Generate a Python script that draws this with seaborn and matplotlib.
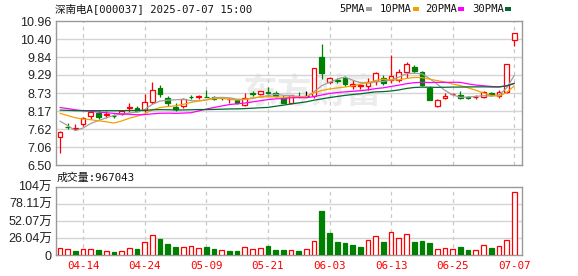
import numpy as np
import pandas as pd
import matplotlib
matplotlib.use("Agg")
import matplotlib.pyplot as plt
from matplotlib.patches import Rectangle
import seaborn as sns

# ---------------- data ----------------
dates = ["04-09", "04-10", "04-11", "04-14", "04-15", "04-16", "04-17", "04-18", "04-21", "04-22",
         "04-23", "04-24", "04-25", "04-28", "04-29", "04-30", "05-06", "05-07", "05-08", "05-09",
         "05-12", "05-13", "05-14", "05-15", "05-16", "05-19", "05-20", "05-21", "05-22", "05-23",
         "05-26", "05-27", "05-28", "05-29", "05-30", "06-03", "06-04", "06-05", "06-06", "06-09",
         "06-10", "06-11", "06-12", "06-13", "06-16", "06-17", "06-18", "06-19", "06-20", "06-23",
         "06-24", "06-25", "06-26", "06-27", "06-30", "07-01", "07-02", "07-03", "07-04", "07-07"]

open_ = [7.38, 7.68, 7.63, 7.78, 8.01, 8.10, 8.06, 8.02, 8.08, 8.27,
         8.28, 8.21, 8.45, 8.88, 8.58, 8.30, 8.33, 8.62, 8.60, 8.61,
         8.62, 8.58, 8.54, 8.50, 8.35, 8.73, 8.69, 8.75, 8.74, 8.59,
         8.41, 8.65, 8.64, 8.64, 9.83, 9.07, 9.12, 9.18, 8.95, 8.95,
         8.95, 9.10, 9.21, 9.12, 9.13, 9.38, 9.52, 9.39, 8.90, 8.34,
         8.56, 8.70, 8.67, 8.61, 8.60, 8.60, 8.73, 8.64, 8.76, 10.36]
high = [7.56, 7.81, 7.77, 7.99, 8.21, 8.19, 8.16, 8.09, 8.21, 8.42,
        8.32, 8.70, 9.07, 8.97, 8.65, 8.42, 8.58, 8.68, 8.68, 8.82,
        8.65, 8.59, 8.58, 8.55, 8.73, 8.78, 8.79, 8.91, 8.78, 8.67,
        8.68, 8.75, 8.80, 9.50, 10.24, 9.24, 9.18, 9.26, 9.14, 9.02,
        9.18, 9.39, 9.29, 9.92, 9.46, 9.68, 9.59, 9.41, 8.95, 8.55,
        8.72, 8.73, 8.80, 8.65, 8.67, 8.78, 8.76, 8.83, 9.63, 10.59]
low = [6.88, 7.62, 7.58, 7.71, 7.94, 7.92, 7.96, 7.95, 8.05, 8.14,
       8.14, 8.14, 8.38, 8.60, 8.32, 8.17, 8.28, 8.54, 8.54, 8.60,
       8.51, 8.50, 8.41, 8.40, 8.33, 8.65, 8.66, 8.69, 8.60, 8.42,
       8.40, 8.59, 8.60, 8.59, 9.16, 9.00, 9.05, 8.95, 8.85, 8.85,
       8.83, 8.99, 8.99, 9.05, 9.08, 9.21, 9.36, 8.95, 8.50, 8.29,
       8.54, 8.67, 8.55, 8.55, 8.55, 8.58, 8.63, 8.59, 8.73, 10.19]
close = [7.53, 7.67, 7.64, 7.96, 8.13, 7.99, 8.08, 8.01, 8.18, 8.29,
         8.16, 8.45, 8.82, 8.69, 8.42, 8.22, 8.53, 8.61, 8.64, 8.60,
         8.55, 8.57, 8.55, 8.42, 8.59, 8.71, 8.78, 8.73, 8.65, 8.42,
         8.66, 8.64, 8.64, 9.50, 9.35, 9.18, 9.10, 9.01, 9.00, 8.97,
         9.08, 9.34, 9.05, 9.26, 9.38, 9.62, 9.40, 8.97, 8.51, 8.52,
         8.65, 8.71, 8.58, 8.57, 8.62, 8.75, 8.66, 8.75, 9.63, 10.59]
# closes of the 29 sessions before the window (needed for the moving averages)
prior_closes = [7.90, 7.95, 8.00, 8.02, 8.05, 8.06, 8.08, 8.10, 8.12, 8.12,
                8.30, 8.42, 8.50, 8.52, 8.48, 8.46, 8.45, 8.50, 8.52, 8.45,
                8.35, 8.34, 8.33, 8.35, 8.33, 8.38, 8.40, 7.56, 7.43]
volume = [106000, 91000, 65000, 96000, 96000, 80000, 65000, 50000, 65000, 106000,
          96000, 202000, 304000, 247000, 172000, 126000, 126000, 136000, 106000, 126000,
          96000, 75000, 65000, 65000, 121000, 91000, 106000, 141000, 80000, 80000,
          75000, 65000, 91000, 212000, 673000, 344000, 202000, 187000, 156000, 126000,
          227000, 288000, 202000, 349000, 258000, 319000, 202000, 217000, 187000, 91000,
          106000, 91000, 126000, 80000, 75000, 151000, 111000, 136000, 227000, 967043]

price_ticks = ["10.96", "10.40", "9.84", "9.29", "8.73", "8.17", "7.62", "7.06", "6.50"]
vol_ticks = ["104万", "78.11万", "52.07万", "26.04万", "0"]
date_ticks = ["04-14", "04-24", "05-09", "05-21", "06-03", "06-13", "06-25", "07-07"]
ma_windows = [5, 10, 20, 30]
ma_names = ["5PMA", "10PMA", "20PMA", "30PMA"]
ma_colors = ["#a0a0a0", "#f5a000", "#ff00ff", "#006a30"]

title = "深南电A[000037] 2025-07-07 15:00"
vol_title = "成交量:967043"

# ---------------- style ----------------
sns.set_theme(style="white")
plt.rcParams["font.family"] = ["Liberation Sans", "Noto Sans CJK SC"]
MONO = ["DejaVu Sans Mono", "Noto Sans CJK SC"]
RED, GREEN = "#ff0000", "#008000"
FRAME, GRID = "#999999", "#d4d4d4"

W, H = 578, 276
fig = plt.figure(figsize=(W / 100, H / 100), dpi=100)
fig.patch.set_facecolor("white")
ax = fig.add_axes([56 / W, 1 - 165 / H, 466 / W, 144 / H])
axv = fig.add_axes([56 / W, 1 - 255.3 / H, 466 / W, 68.6 / H])

n = len(close)
x = np.arange(n)
o = np.array(open_); c = np.array(close); hi = np.array(high); lo = np.array(low)
v = np.array(volume) / 1e4

# ---------------- candles ----------------
bw = 0.6
up = c > o
dn = c < o
fl = c == o
bot = np.minimum(o, c)
top = np.maximum(o, c)
hgt = np.maximum(top - bot, 0.008)

# wicks
ax.vlines(x[up], lo[up], bot[up], color=RED, lw=0.9, zorder=3)
ax.vlines(x[up], top[up], hi[up], color=RED, lw=0.9, zorder=3)
ax.vlines(x[dn], lo[dn], hi[dn], color=GREEN, lw=0.9, zorder=3)
ax.vlines(x[fl], lo[fl], hi[fl], color="black", lw=0.9, zorder=3)
# bodies
ax.bar(x[up], hgt[up], bottom=bot[up], width=bw, facecolor="white", edgecolor=RED, lw=0.9, zorder=4)
ax.bar(x[dn], hgt[dn], bottom=bot[dn], width=bw, facecolor=GREEN, edgecolor=GREEN, lw=0.9, zorder=4)
ax.hlines(c[fl], x[fl] - bw / 2, x[fl] + bw / 2, color="black", lw=0.9, zorder=4)

# moving averages
all_close = pd.Series(prior_closes + close)
k0 = len(prior_closes)
for w, col in zip(ma_windows, ma_colors):
    ma = all_close.rolling(w).mean().iloc[k0:].to_numpy()
    sns.lineplot(x=x, y=ma, ax=ax, color=col, linewidth=0.9, estimator=None, zorder=5, legend=False)

# ---------------- volume ----------------
prev = np.r_[c[0] - 1, c[:-1]]
vup = c >= prev
axv.bar(x[vup], v[vup], width=bw, facecolor="white", edgecolor=RED, lw=0.9, zorder=4)
axv.bar(x[~vup], v[~vup], width=bw, facecolor=GREEN, edgecolor=GREEN, lw=0.9, zorder=4)

# ---------------- axes ----------------
pmin, pmax = float(price_ticks[-1]), float(price_ticks[0])
vmax = 104.14
date_pos = [dates.index(d) for d in date_ticks]
for a in (ax, axv):
    a.set_xlim(-0.52, n)
    for s in a.spines.values():
        s.set_color(FRAME)
        s.set_linewidth(1.0)
    a.grid(False)
    for p in date_pos:
        a.axvline(p, color="#c8c8c8", lw=0.9, dashes=(3, 3), zorder=1)
    a.tick_params(length=0, pad=3)
    a.set_facecolor("white")

ax.set_ylim(pmin, pmax)
pt = np.linspace(pmax, pmin, len(price_ticks))
ax.set_yticks(pt)
ax.set_yticklabels(price_ticks, fontsize=9, color="#222222")
for yv in pt[1:-1]:
    ax.axhline(yv, color=GRID, lw=1.0, zorder=1)
ax.set_xticks([])

axv.set_ylim(0, vmax)
vt = np.linspace(vmax, 0, len(vol_ticks))
axv.set_yticks(vt)
axv.set_yticklabels(vol_ticks, fontsize=9, color="#222222")
for yv in vt[1:-1]:
    axv.axhline(yv, color=GRID, lw=1.0, zorder=1)
axv.set_xticks(date_pos)
axv.set_xticklabels(date_ticks, fontsize=7.8, color=RED, family=MONO)
axv.tick_params(axis="x", pad=4)

# watermark
ax.text(243 / W, 1 - 92 / H, "东方财富", transform=fig.transFigure, fontsize=25, fontweight="bold",
        color="#ececec", family=["Noto Sans CJK SC"], va="center", ha="left", zorder=0)

# ---------------- texts ----------------
fig.text(55 / W, 1 - 9 / H, title, fontsize=7.6, family=MONO, va="center", ha="left", color="#111111")
fig.text(57 / W, 1 - 177.5 / H, vol_title, fontsize=7.8, family=MONO, va="center", ha="left", color="#111111")

leg_text_x = [339, 380, 425, 472]
leg_rect_x = [366, 413, 458, 505]
for name, col, tx, rx in zip(ma_names, ma_colors, leg_text_x, leg_rect_x):
    fig.text(tx / W, 1 - 9 / H, name, fontsize=7.6, family=MONO, va="center", ha="left", color="#111111")
    fig.patches.append(Rectangle((rx / W, 1 - 10.5 / H), 6 / W, 3 / H, transform=fig.transFigure,
                                 facecolor=col, edgecolor="none"))

fig.savefig("out.png", dpi=100, facecolor="white")
